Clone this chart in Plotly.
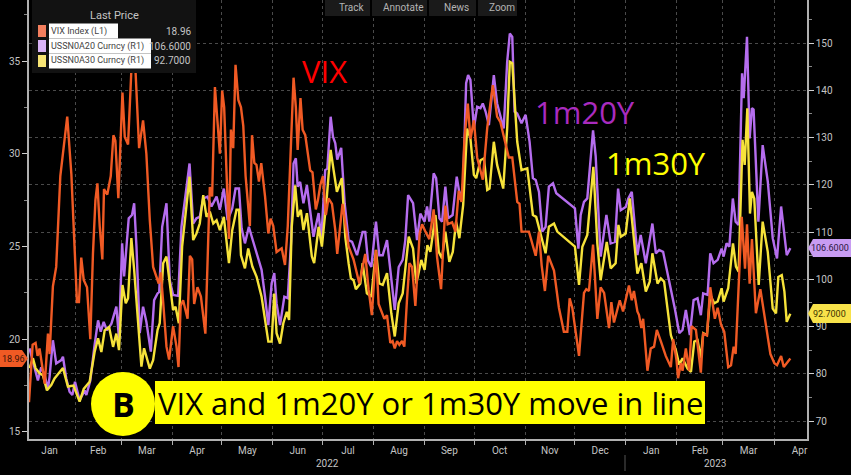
import pandas as pd
import plotly.graph_objects as go

START = pd.Timestamp("2022-01-01")

vix_days = [3,5.2,7,8.2,9.4,11.2,12.6,14.5,15.5,17.5,19.5,22,26.2,28.7,32.1,33.3,34.7,36.2,38.2,40.2,41.8,43.3,44.5,45.9,47.5,48.5,50.5,52.6,54.2,55.4,57.2,59.7,61.1,63.1,65.1,66.1,67.6,69.8,72.2,74.2,76.3,78.3,
81.7,83,84.4,86.4,88,90.4,92.5,93.7,95,96.5,99.2,100.6,102,103.2,105.2,107.3,110,112.7,114.1,115.8,118.8,120.2,121.4,122.9,124.3,125.5,126.9,128.3,130,131.6,133,134.4,137,138.3,139.7,141,142.5,143.9,146.2,148.2,149.6,151.2,153.2,156.3,158.3,
160,163.5,164.9,166,167.7,169,170.6,173.6,175,177,178.3,179.7,181.3,183.1,184.7,186.8,188.8,190,193.2,196.9,199.9,203.4,207,209,211,213.5,215.1,218.6,220.2,222.2,223.6,224.9,226.3,227.7,229.3,230.7,232.3,233.8,235.4,237.4,240,
241.5,243.5,245.9,248.5,250.6,253,255.6,257,259.7,261.7,263.7,265.4,267.2,269.2,270.8,272.9,274.9,278.3,281,284.4,287,289,291.7,294.1,296.2,299.2,300.6,301.8,306.3,310.4,312.4,314,316,318,
321.5,324.5,327.5,329.6,331,332.6,336.7,339.7,341.1,342.7,345.2,347.8,349.8,351.9,354.9,356.3,357.9,361.4,363.4,367,368.7,370,372.1,373.1,374.5,375.6,378.2,380.2,382.2,383.9,386.3,389.3,392.4,393.8,395.8,396.8,398.5,399.5,401.5,403.5,405,407.6,410.6,412,414.3,416.3,419.1,420.8,422.8,424.8,427.2,428.9,430.5,431.7,435.4,437.4,438.6,440.2,441.6,444,446.7,449.5,452.8,455.2,456.8,459.3,460.9,464.9]
vix_values = [16.6,19.7,19.8,19.1,19.5,18.5,17.6,20.3,19.2,22.85,23.9,28.8,32.0,28.9,22.0,22.0,24.4,23.2,22.8,20.0,24.6,27.5,28.4,26.1,24.3,28.1,27.8,28.8,31.0,30.7,27.6,33.3,30.9,30.5,34.5,36.5,34.5,30.3,31.8,30.0,26.4,23.9,
23.0,23.6,22,19.6,18.9,20.7,19.6,18.5,21.8,22.1,21.1,24.5,24.3,21.9,22.8,22.3,20.3,28.2,27.7,33.6,30.0,33.4,32.5,28.9,25.4,31.3,30.3,34.8,32.9,32.5,31.5,28.8,26.1,31.0,29.5,29.4,28.5,29.5,27.7,25.7,26.5,26.1,24.7,24.9,24.0,
26.1,34.1,32.5,30.2,33.0,31.3,31.0,29.1,29.0,27.0,27.5,28.3,28.8,26.7,27.6,27.3,25.9,24.6,27.3,25.0,24.3,23.0,24.6,22.7,21.3,24.8,21.9,21.1,21.3,19.8,19.9,19.5,19.9,19.7,19.9,19.6,22.1,24.1,23.9,21.8,25.7,
26.2,25.8,25.4,27.0,24.4,22.7,27.2,26.2,26.3,25.8,28.0,27.4,30.8,32.7,30.8,31.8,29.8,28.6,31.4,33.7,32.0,31.7,30.7,29.8,29.8,27.4,27.3,25.8,25.8,24.5,25.8,24.0,22.6,24.5,
23.7,21.7,20.4,20.4,22.2,21.7,19.1,22.5,22.7,22.6,25.1,21.1,22.8,22.5,20.6,22,20.9,22.1,21.5,22.9,22.1,22.6,21.5,21.3,20.6,21.1,18.3,19.5,19.6,20.5,19.9,19.1,18.5,20,18.9,17.9,18.7,18.3,19.5,18.3,20.7,20.5,18.2,20.3,20.2,22.8,21.1,21.7,20.8,20.4,18.5,18.6,19.6,19.2,26.6,23.8,26.2,23,25.4,21.4,22.7,21,19.2,18.7,18.6,19.1,18.5,18.96]

usd20_days = [3.3,6.4,8.4,10.4,12.5,14.5,15.5,17.5,19.5,22.6,23.6,25.6,27.6,29.3,30.9,33.7,36.8,37.8,40.2,42.8,44.9,46.5,48.3,50.3,53,56,57.6,59.5,60.7,63.5,65.5,66.8,68.2,70.2,72.2,74.2,76.9,78.9,
81,82,83.8,86.4,88.4,90.4,93.5,95.5,98,100.4,102.6,104.6,106.6,108.7,111.3,113.7,116.8,118.8,121.2,123.5,126.3,128.3,130.4,132,134,136.4,139,142.1,144.1,146.2,148.2,150.2,151.8,153.2,155.3,157.9,
160,162,163.5,164.9,166,167.5,169.5,171.6,173.6,175.6,178.7,180.3,182.7,184,186,187.4,188.8,190,192.4,194.5,196.9,199,202,205.4,207,208.6,210.7,213.5,215.5,217.6,220.2,222.8,224.9,227.3,229.7,231.3,233,236,238.4,
240.4,243,244.5,245.9,248.5,250,252,253.6,255.6,257.3,260,262.5,264.8,266.4,268.2,269.4,270.8,272.9,274.9,276.9,278.3,280,282,285,287,291,293.1,294.7,296.2,297.6,299.2,301.8,304.3,306.7,308.7,310.4,312.4,314.4,
316.4,318.4,320.9,322.9,334.2,336.3,337.7,339.7,341.7,345.2,346.8,349.8,353.3,355.9,358.5,360.4,362,365,366.6,368.7,372.1,374.1,377.2,381.2,383.3,385.3,387.7,391.4,394.8,397.5,399.5,401.5,403.9,406.2,408.6,410.6,412,414.7,416.3,418.3,420.8,423.2,424.4,426.2,427.9,430,431.7,433.5,435.6,436.6,438.6,440.2,441.6,442.6,445.5,448.1,451.2,454.2,456.8,459.3,462.7,464.9]
usd20_values = [85.4,81.1,78.6,81.4,79.7,76.8,79.4,87.1,82.2,82.9,83.6,79,76.2,75.5,78.3,74.4,76.5,75.5,78.6,86.1,91.3,88.9,91,89.2,90.6,94.2,87.5,107.6,100.6,112.9,113.6,116.1,106.9,88.6,94.2,91,84.7,95.6,
97,97.3,111.1,116.1,99.8,96.7,96.5,111.1,117.5,124.5,111.8,112.9,113.2,117.1,117.5,115.4,117.5,114.7,119.2,112.5,115,119.2,119.2,110.8,107.6,111.1,108,104.1,102,96.3,90.3,99.1,101.3,94.9,90.3,96.3,
96,108,124.5,125.6,119.6,120.6,116.1,119.9,114.7,109,114,108.3,123.1,123.4,134.4,130.2,128.8,125.3,127.8,116.1,108.3,107.9,105.1,110,110,104,102.6,112.2,105.1,105.1,108.3,99.8,93.5,102.6,104.1,108.3,117.8,116.1,108.3,
113.9,112.2,115.4,112.2,122.4,121.4,112.9,112.2,119.6,112.9,113.6,121.7,116.8,120,141.5,143.2,142.2,131.9,136.5,136.2,137.2,135.5,132.6,143.2,137.2,131.9,146,152,151.3,135.5,135.1,133,134.8,129.1,121.4,121,118.5,110.1,
111.1,119.6,120.3,118.2,115,106.5,113.6,116.4,117.1,131.5,126,104.8,113.6,107.6,107.9,119.2,114.6,115.3,117.1,118.5,105.1,109.4,103.4,111.8,105.5,106.2,105.8,99.8,93.8,88.6,89.3,93.5,88.2,95.6,96,92.4,97,96.7,105.5,103.4,104.1,106.5,104.8,107.6,106.9,117.1,112.2,111.5,143.6,138.3,151.3,129.8,136.2,135.9,112.2,128.4,120.7,108.7,104.4,115.4,105.1,106.6]

usd30_days = [3.3,5.4,7,9.4,11.4,13.9,16.5,18.5,23.6,26.6,30,33.7,36.2,39.8,42.8,44.9,46.9,48.9,51.6,54,56,57.6,59.7,61.7,63.1,65.1,66.8,69.2,71.2,72.8,76.3,78.3,
81,82.3,84.4,86.4,88.4,90.4,91.9,93.9,95.9,98.5,100.4,102.6,104.6,106.6,108.7,110.7,112.7,114.8,116.8,118.8,121.2,124.3,126.3,128.9,130.4,131.6,134,136,138.5,141.1,144.1,148.2,150.2,151.8,153.2,155.3,157.3,159.4,160.8,
162.4,164.5,166.1,167.9,169.5,171.6,174.6,176,178.7,180.7,183.7,186,187.8,189.8,192.8,194.9,196.9,198.3,199.9,201.3,204,205.4,208,210.7,213.5,215.5,217.6,220.2,222.8,224.9,227.3,229.7,233.4,236,238,
241,243,244.7,246.5,249.6,251.6,253.6,255.6,258,260.1,262.1,264.1,266.4,268.8,270.8,272.9,274.3,276.9,279,281,282.4,285,287,290.7,293.1,294.7,296.2,299.2,301.8,305.3,308.7,310.7,314.4,316.4,
318.4,321.5,323.5,334.2,336.7,338.7,341.7,345.4,347.8,349.8,353.5,355.9,358.9,360.6,362,365,367.5,372.1,374.5,377.2,379.6,381.2,384.3,386.3,388.3,392.4,395.4,397.5,399.5,402.5,404.6,406.6,408.6,410.6,412,414.3,416.3,418.7,420.8,423.2,424.4,427.2,430.1,431.9,433.5,435.9,437.2,438.8,440.4,441.6,443,445.7,448.1,451.2,454.2,456.2,457.6,459.7,461.3,462.7,464.9]
usd30_values = [81.2,83.3,81.2,80.1,79.7,76.5,77.6,79,81.2,77.3,77.5,74.1,76.8,78.3,84.6,87.5,84.6,89.2,89.9,85.7,88.5,85,98.8,94.9,96,108.7,102,90,81.5,85.4,81.1,82.9,
89.3,90.7,103.4,104.8,99.1,93.5,94.2,90.7,106.9,114.7,121.7,108.3,109.7,111.8,117.8,113.2,114.3,111.8,112.5,110.4,113.2,103.4,110.4,114.7,114.7,105.1,102.3,106.5,102.7,100.5,96.3,86.8,86.8,97,88.6,86.4,90.7,93.1,91.4,
111.1,119.9,113.2,114.7,110.4,114,104.8,103.4,111.1,106.9,117.5,127.4,123.1,118.5,121.4,108.9,103.4,100.2,99.8,97.9,99.1,103.4,97,96.3,106.2,99.1,98.8,101.3,92.8,87.9,94.9,97,109,106.5,99.1,
104.1,102,107.2,105.8,113.6,105.8,104.4,110.1,103.7,105.8,112.2,108.7,115.7,131.9,129.8,122.1,121.4,125.2,125.6,118.9,119.2,129.1,124.2,119.2,131.9,146,145.7,129.1,123.1,123.5,113.6,113.2,108,105.5,
111.1,111.8,110.1,106.9,98.8,106.9,109.4,123.8,107.6,99.8,107.9,102.3,103.4,111.5,109,109.7,117.1,101.2,103.4,97.4,99.5,105.5,99.1,100.2,99.5,88.2,85,81.9,83.3,81.1,80.4,86.8,87.1,83.3,88.6,88.2,96.7,94.9,95.3,98.1,95.3,98.1,107.6,102.7,101.6,129.5,124.2,136.2,113.9,118.5,117.1,98.8,112.2,105.8,93.8,92.8,100.5,100.9,97.4,91,92.7]

series_names = ["VIX Index  (L1)", "USSN0A20 Curncy  (R1)", "USSN0A30 Curncy  (R1)"]
last_prices = ["18.96", "106.6000", "92.7000"]
vix_ticks = [15, 20, 25, 30, 35]
rate_ticks = [70, 80, 90, 100, 110, 120, 130, 140, 150]
toolbar_items = ["Track", "Annotate", "News", "Zoom"]

ORANGE, PURPLE, YELLOW = "#F05A24", "#B56DEE", "#F6E23A"
W, H = 851, 475
L, R, B = 29, 807, 439


def to_dates(days):
    return [START + pd.Timedelta(days=d) for d in days]


def px(x):
    return (x - L) / (R - L)


def py(y):
    return (B - y) / B


fig = go.Figure()
fig.add_trace(go.Scatter(x=to_dates(usd20_days), y=usd20_values, mode="lines", yaxis="y",
                         line=dict(color=PURPLE, width=2.4), showlegend=False))
fig.add_trace(go.Scatter(x=to_dates(usd30_days), y=usd30_values, mode="lines", yaxis="y",
                         line=dict(color=YELLOW, width=2.4), showlegend=False))
fig.add_trace(go.Scatter(x=to_dates(vix_days), y=vix_values, mode="lines", yaxis="y2",
                         line=dict(color=ORANGE, width=2.4), showlegend=False))

AXFONT = dict(family="Roboto, sans-serif", size=10, color="#C4C4C4")
GRID = "#4A4A4A"
AXLINE = "#B0B0B0"

shapes, annos = [], []


def text(x, y, s, size=10, color="#C4C4C4", anchor="center", family=AXFONT["family"], **kw):
    annos.append(dict(xref="paper", yref="paper", x=px(x), y=py(y), text=s, showarrow=False,
                      xanchor=anchor, yanchor="middle", borderpad=0,
                      font=dict(size=size, color=color, family=family), **kw))


def rect(x0, y0, x1, y1, fill, line=None):
    shapes.append(dict(type="rect", xref="paper", yref="paper", x0=px(x0), x1=px(x1), y0=py(y0), y1=py(y1),
                       fillcolor=fill, line=dict(width=0 if line is None else 1, color=line or fill), layer="above"))


def tag(pts, fill):
    d = "M " + " L ".join(f"{px(a):.5f},{py(b):.5f}" for a, b in pts) + " Z"
    shapes.append(dict(type="path", xref="paper", yref="paper", path=d, fillcolor=fill, line=dict(width=0), layer="above"))


# Bloomberg legend panel
rect(32, 0, 196, 73, "#121212")
text(114, 16, "Last Price", size=11)
for i, (c, n, v) in enumerate(zip(["#F47F5E", "#D9B3F7", "#F8E574"], series_names, last_prices)):
    yc = 31 + i * 15
    rect(38, yc - 6, 46, yc + 6, c)
    rect(49, yc - 7.5, [118, 151, 151][i], yc + 7.5, "#FFFFFF")
    text(50, yc, n.replace("  ", "&nbsp;"), size=9, color="#444444", anchor="left")
    text(192, yc, v, size=10, anchor="right")

# toolbar
for x0, x1, s in zip([325, 372, 429, 478], [370, 427, 476, 517], toolbar_items):
    rect(x0, 0, x1, 16, "#1A1A1A")
    text((x0 + x1) / 2 + 4, 8, s, size=10, color="#B4B4B4")

# value tags on the axes
tag([(0, 350), (22, 350), (28, 358.5), (22, 367), (0, 367)], ORANGE)
text(13, 358.5, last_prices[0], size=9, color="#3A1206")
tag([(813, 239), (851, 239), (851, 257), (813, 257), (808, 248)], "#C89CF2")
text(830, 248, last_prices[1], size=9, color="#2A1540")
tag([(813, 304), (851, 304), (851, 323), (813, 323), (808, 313.5)], "#F8E24A")
text(830, 313.5, last_prices[2], size=9, color="#3A3200")

# commentary
ANN = "Open Sans, Noto Sans, sans-serif"
text(324, 71, "VIX", size=31, color="#FF0000", family=ANN)
text(585, 112, "1m20Y", size=31, color="#A92BBF", family=ANN)
text(656, 163, "1m30Y", size=31, color="#FFFF00", family=ANN)
rect(155, 381, 705, 424, "#FFFF00")
text(431, 403, "VIX and 1m20Y or 1m30Y move in line", size=31, color="#000000", family=ANN)
shapes.append(dict(type="circle", xref="paper", yref="paper", x0=px(91), x1=px(155), y0=py(436), y1=py(372),
                   fillcolor="#FFFF00", line=dict(width=0), layer="above"))
text(123, 404, "<b>B</b>", size=34, color="#000000", family=ANN)

# year labels
text(327, 463, "2022", size=10)
text(715, 463, "2023", size=10)
shapes.append(dict(type="line", xref="paper", yref="paper", x0=px(625), x1=px(625), y0=py(455), y1=py(471),
                   line=dict(color="#555555", width=1), layer="above"))

fig.update_layout(
    width=W, height=H,
    paper_bgcolor="#000000", plot_bgcolor="#000000",
    margin=dict(l=L, r=W - R, t=0, b=H - B, pad=0),
    showlegend=False,
    shapes=shapes, annotations=annos,
    xaxis=dict(type="date", range=["2022-01-04", "2023-04-21"], dtick="M1", tick0="2022-01-01",
               ticklabelmode="period", tickformat="%b", tickfont=AXFONT, ticklabelstandoff=-3,
               showgrid=True, gridcolor=GRID, griddash="dot", gridwidth=1,
               showline=True, linecolor=AXLINE, linewidth=1.5, ticks="outside", ticklen=4, tickcolor=AXLINE,
               zeroline=False),
    yaxis=dict(side="right", range=[66.2, 159.1], tickvals=rate_ticks, ticktext=[str(v) for v in rate_ticks],
               tickfont=AXFONT, showgrid=True, gridcolor=GRID, griddash="dot", gridwidth=1,
               showline=True, linecolor=AXLINE, linewidth=1.5, ticks="outside", ticklen=5, tickcolor="#D0D0D0",
               minor=dict(dtick=5, ticks="outside", ticklen=3, tickcolor="#888888", showgrid=False),
               zeroline=False),
    yaxis2=dict(side="left", overlaying="y", range=[14.62, 38.29], tickvals=vix_ticks,
                ticktext=[str(v) for v in vix_ticks], tickfont=AXFONT, showgrid=False,
                showline=True, linecolor=AXLINE, linewidth=1.5, ticks="outside", ticklen=5, tickcolor="#D0D0D0",
                minor=dict(dtick=2.5, ticks="outside", ticklen=3, tickcolor="#888888", showgrid=False),
                zeroline=False),
)

fig.write_html("out.html", config={"displayModeBar": False},
               post_script="document.body.style.margin='0';document.body.style.background='#000';document.body.style.overflow='hidden';")
